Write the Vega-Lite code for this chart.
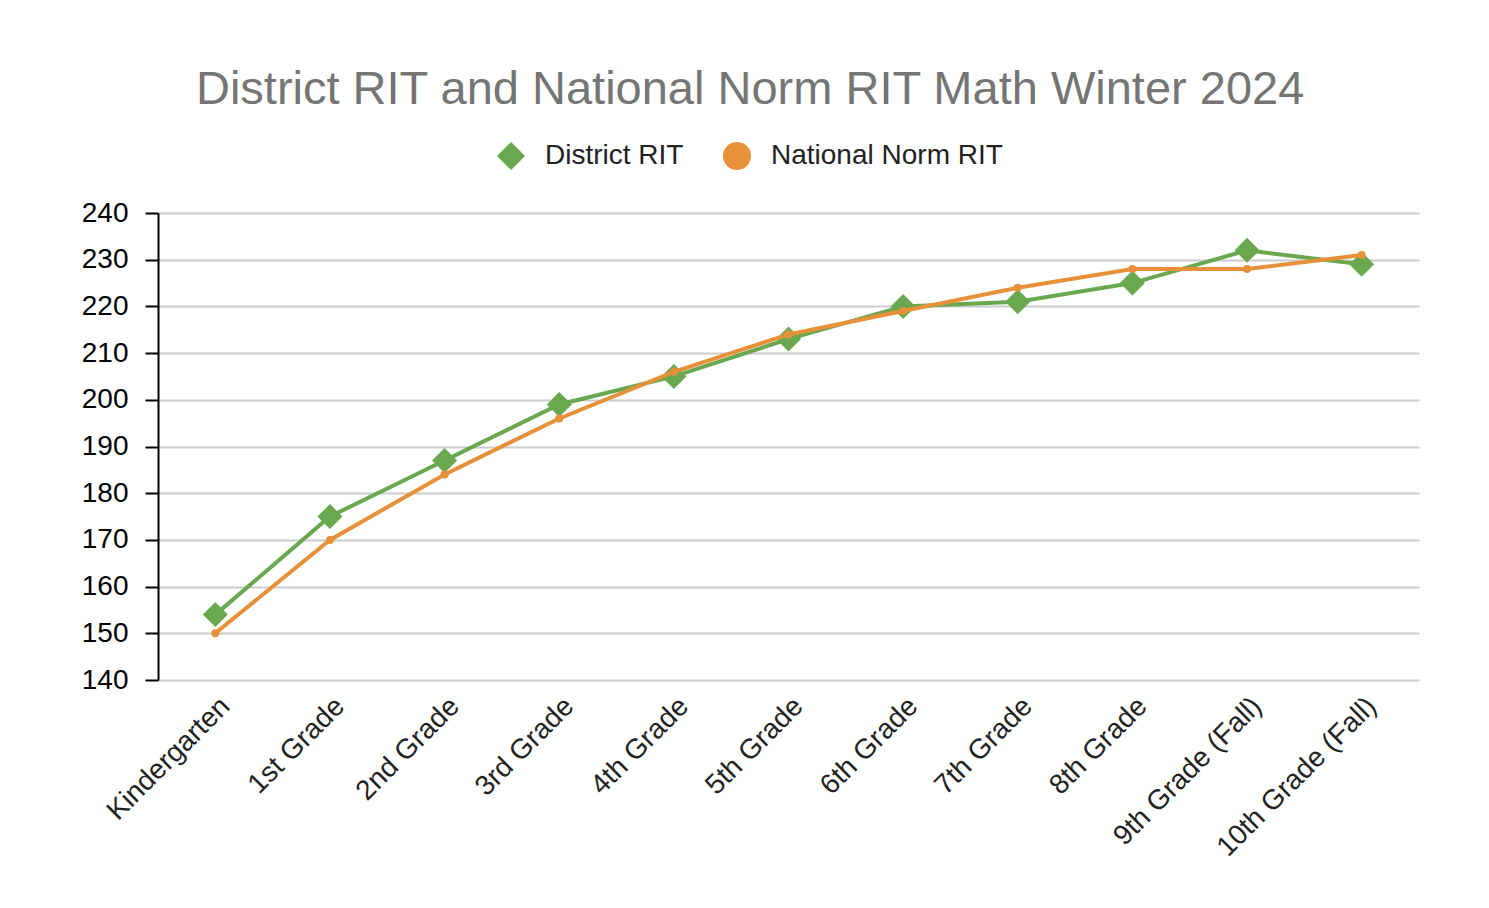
{
  "$schema": "https://vega.github.io/schema/vega-lite/v6.json",
  "autosize": {"type": "none"},
  "width": 1261,
  "height": 467,
  "padding": {"left": 158, "top": 213, "right": 70, "bottom": 228},
  "background": "white",
  "config": {"view": {"stroke": null}},
  "title": {
    "text": "District RIT and National Norm RIT Math Winter 2024",
    "font": "Liberation Sans",
    "fontSize": 47,
    "fontWeight": "normal",
    "color": "#757575",
    "anchor": "middle",
    "frame": "bounds",
    "offset": 28
  },
  "data": {
    "values": [
      {"grade": "Kindergarten", "series": "District RIT", "rit": 154},
      {"grade": "1st Grade", "series": "District RIT", "rit": 175},
      {"grade": "2nd Grade", "series": "District RIT", "rit": 187},
      {"grade": "3rd Grade", "series": "District RIT", "rit": 199},
      {"grade": "4th Grade", "series": "District RIT", "rit": 205},
      {"grade": "5th Grade", "series": "District RIT", "rit": 213},
      {"grade": "6th Grade", "series": "District RIT", "rit": 220},
      {"grade": "7th Grade", "series": "District RIT", "rit": 221},
      {"grade": "8th Grade", "series": "District RIT", "rit": 225},
      {"grade": "9th Grade (Fall)", "series": "District RIT", "rit": 232},
      {"grade": "10th Grade (Fall)", "series": "District RIT", "rit": 229},
      {"grade": "Kindergarten", "series": "National Norm RIT", "rit": 150},
      {"grade": "1st Grade", "series": "National Norm RIT", "rit": 170},
      {"grade": "2nd Grade", "series": "National Norm RIT", "rit": 184},
      {"grade": "3rd Grade", "series": "National Norm RIT", "rit": 196},
      {"grade": "4th Grade", "series": "National Norm RIT", "rit": 206},
      {"grade": "5th Grade", "series": "National Norm RIT", "rit": 214},
      {"grade": "6th Grade", "series": "National Norm RIT", "rit": 219},
      {"grade": "7th Grade", "series": "National Norm RIT", "rit": 224},
      {"grade": "8th Grade", "series": "National Norm RIT", "rit": 228},
      {"grade": "9th Grade (Fall)", "series": "National Norm RIT", "rit": 228},
      {"grade": "10th Grade (Fall)", "series": "National Norm RIT", "rit": 231}
    ]
  },
  "encoding": {
    "x": {
      "field": "grade",
      "type": "nominal",
      "sort": null,
      "scale": {"type": "point", "padding": 0.5},
      "axis": {
        "title": null,
        "labelAngle": -45,
        "labelFontSize": 28,
        "labelFont": "Liberation Sans",
        "labelColor": "#222222",
        "labelLimit": 0,
        "domain": false,
        "ticks": false,
        "grid": false,
        "labelPadding": 12
      }
    },
    "y": {
      "field": "rit",
      "type": "quantitative",
      "scale": {"domain": [140, 240], "nice": false, "zero": false},
      "axis": {
        "title": null,
        "values": [140, 150, 160, 170, 180, 190, 200, 210, 220, 230, 240],
        "labelFontSize": 28,
        "labelFont": "Liberation Sans",
        "labelColor": "#000000",
        "domainColor": "#000000",
        "domainWidth": 2,
        "tickColor": "#000000",
        "tickWidth": 2,
        "tickSize": 13,
        "labelPadding": 17,
        "gridColor": "#cccccc",
        "gridWidth": 2
      }
    },
    "color": {
      "field": "series",
      "type": "nominal",
      "scale": {"domain": ["District RIT", "National Norm RIT"], "range": ["#6aa84f", "#e69138"]},
      "legend": {
        "title": null,
        "orient": "none",
        "direction": "horizontal",
        "legendX": 339,
        "legendY": -71,
        "labelFontSize": 28,
        "labelFont": "Liberation Sans",
        "labelColor": "#222222",
        "labelLimit": 0,
        "symbolSize": 784,
        "symbolStrokeWidth": 0,
        "labelOffset": 20,
        "columnPadding": 39
      }
    },
    "shape": {
      "field": "series",
      "type": "nominal",
      "scale": {"domain": ["District RIT", "National Norm RIT"], "range": ["diamond", "circle"]}
    }
  },
  "layer": [
    {
      "transform": [{"filter": "datum.series === 'District RIT'"}],
      "mark": {"type": "line", "strokeWidth": 4}
    },
    {
      "transform": [{"filter": "datum.series === 'District RIT'"}],
      "mark": {"type": "point", "filled": true, "opacity": 1, "size": 625}
    },
    {
      "transform": [{"filter": "datum.series === 'National Norm RIT'"}],
      "mark": {"type": "line", "strokeWidth": 4}
    },
    {
      "transform": [{"filter": "datum.series === 'National Norm RIT'"}],
      "mark": {"type": "point", "filled": true, "opacity": 1, "size": 64}
    }
  ]
}
